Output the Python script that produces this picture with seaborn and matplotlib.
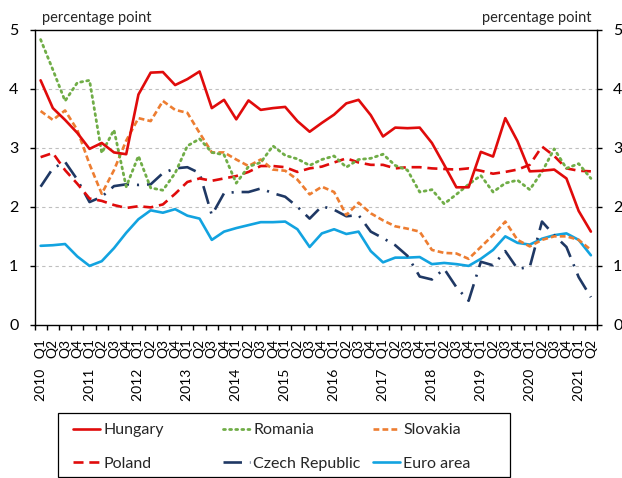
import numpy as np
import pandas as pd
import matplotlib
matplotlib.use("Agg")
import matplotlib.pyplot as plt
import seaborn as sns
from matplotlib.patches import Rectangle

# ---------------- data ----------------
years = list(range(2010, 2022))
quarters = ["Q1", "Q2", "Q3", "Q4"]
periods = [(y, q) for y in years for q in quarters][:46]
tick_labels = [f"{y}   {q}" if q == "Q1" else q for y, q in periods]

hungary = [4.14, 3.67, 3.47, 3.25, 2.98, 3.08, 2.92, 2.89, 3.90, 4.27,
           4.28, 4.06, 4.16, 4.29, 3.67, 3.81, 3.48, 3.80, 3.64, 3.67,
           3.69, 3.45, 3.27, 3.42, 3.56, 3.75, 3.81, 3.55, 3.19, 3.34,
           3.33, 3.34, 3.08, 2.71, 2.33, 2.33, 2.93, 2.85, 3.50, 3.11,
           2.60, 2.61, 2.63, 2.48, 1.93, 1.58]
romania = [4.83, 4.32, 3.79, 4.10, 4.14, 2.91, 3.30, 2.34, 2.86, 2.32,
           2.28, 2.57, 3.03, 3.15, 2.92, 2.88, 2.40, 2.68, 2.75, 3.03,
           2.87, 2.81, 2.70, 2.80, 2.86, 2.67, 2.80, 2.82, 2.89, 2.70,
           2.62, 2.25, 2.29, 2.05, 2.21, 2.38, 2.53, 2.25, 2.40, 2.45,
           2.29, 2.59, 2.98, 2.65, 2.73, 2.48]
slovakia = [3.62, 3.47, 3.63, 3.30, 2.72, 2.22, 2.62, 3.12, 3.50, 3.45,
            3.79, 3.64, 3.59, 3.25, 2.92, 2.92, 2.80, 2.69, 2.80, 2.63,
            2.61, 2.46, 2.21, 2.34, 2.25, 1.86, 2.07, 1.89, 1.77, 1.67,
            1.63, 1.58, 1.27, 1.22, 1.21, 1.12, 1.32, 1.52, 1.75, 1.44,
            1.33, 1.44, 1.50, 1.50, 1.44, 1.27]
poland = [2.84, 2.91, 2.62, 2.39, 2.14, 2.10, 2.03, 1.98, 2.01, 1.99,
          2.04, 2.22, 2.42, 2.48, 2.44, 2.48, 2.52, 2.59, 2.69, 2.69,
          2.67, 2.59, 2.65, 2.68, 2.75, 2.82, 2.75, 2.71, 2.71, 2.65,
          2.67, 2.67, 2.65, 2.64, 2.63, 2.65, 2.61, 2.56, 2.59, 2.63,
          2.71, 3.02, 2.86, 2.65, 2.61, 2.60]
czech = [2.34, 2.65, 2.76, 2.46, 2.08, 2.17, 2.35, 2.38, 2.37, 2.38,
         2.57, 2.65, 2.67, 2.57, 1.86, 2.23, 2.25, 2.25, 2.31, 2.23,
         2.17, 2.00, 1.80, 2.01, 1.95, 1.84, 1.86, 1.58, 1.47, 1.35,
         1.17, 0.82, 0.77, 0.95, 0.64, 0.41, 1.07, 1.01, 1.25, 0.95,
         0.98, 1.75, 1.52, 1.32, 0.81, 0.47]
euro_area = [1.34, 1.35, 1.37, 1.16, 1.00, 1.08, 1.30, 1.56, 1.79, 1.94,
             1.90, 1.96, 1.85, 1.80, 1.44, 1.58, 1.64, 1.69, 1.74, 1.74,
             1.75, 1.62, 1.32, 1.55, 1.62, 1.54, 1.58, 1.25, 1.06, 1.14,
             1.14, 1.15, 1.03, 1.05, 1.03, 1.00, 1.12, 1.27, 1.50, 1.39,
             1.36, 1.46, 1.52, 1.55, 1.44, 1.18]

series_names = ["Hungary", "Romania", "Slovakia", "Poland", "Czech Republic", "Euro area"]
series_values = [hungary, romania, slovakia, poland, czech, euro_area]

# ---------------- style ----------------
sns.set_theme(style="white")
plt.rcParams["font.family"] = ["Lato", "DejaVu Sans"]

styles = {
    "Hungary":        dict(color="#E00B0B", linestyle="-", linewidth=1.9),
    "Romania":        dict(color="#70AD47", linestyle=(0, (0.7, 1.5)), linewidth=2.0,
                           dash_capstyle="round"),
    "Slovakia":       dict(color="#ED7D31", linestyle=(0, (2.2, 1.2)), linewidth=1.9),
    "Poland":         dict(color="#E00B0B", linestyle=(0, (3.8, 2.2)), linewidth=1.9),
    "Czech Republic": dict(color="#1F3864", linestyle=(0, (7, 3, 0.8, 3)), linewidth=1.9),
    "Euro area":      dict(color="#12A3E0", linestyle="-", linewidth=1.9),
}

x = np.arange(len(periods))
df = pd.DataFrame({"idx": np.tile(x, len(series_names)),
                   "series": np.repeat(series_names, len(x)),
                   "value": np.concatenate([np.asarray(v, float) for v in series_values])})

fig = plt.figure(figsize=(6.22, 4.78), dpi=100)
W, H = 622, 478
ax = fig.add_axes([34.5 / W, (H - 325) / H, (597 - 34.5) / W, (325 - 29.5) / H])

order = ["Euro area", "Czech Republic", "Poland", "Slovakia", "Romania", "Hungary"]
handles = {}
for name in order:
    sub = df[df["series"] == name]
    sns.lineplot(data=sub, x="idx", y="value", ax=ax, legend=False, **styles[name])
    handles[name] = ax.lines[-1]

ax.set_xlim(-0.5, len(x) - 0.5)
ax.set_ylim(0, 5)
ax.set_xlabel("")
ax.set_ylabel("")

for yv in [1, 2, 3, 4]:
    ax.axhline(yv, color="#BFBFBF", linewidth=0.8, linestyle=(0, (3, 3)), zorder=0)

for s in ax.spines.values():
    s.set_visible(True)
    s.set_color("black")
    s.set_linewidth(1.0)

ax.set_yticks([0, 1, 2, 3, 4, 5])
ax.set_yticklabels(["0", "1", "2", "3", "4", "5"])
ax.tick_params(axis="y", which="major", direction="out", length=3.6, width=1.0,
               left=True, right=True, labelleft=True, labelright=True,
               labelsize=11.5, pad=8, colors="black")

ax.set_xticks(x)
ax.set_xticklabels(tick_labels, rotation=90, fontsize=10)
ax.set_xticks(np.arange(-0.5, len(x)), minor=True)
ax.tick_params(axis="x", which="major", length=0, pad=10, colors="black")
ax.tick_params(axis="x", which="minor", direction="out", length=3.6, width=1.0,
               bottom=True, color="black")
for lbl in ax.get_xticklabels():
    lbl.set_verticalalignment("top")
    lbl.set_horizontalalignment("center")

fig.text(42 / W, 1 - 18 / H, "percentage point", fontsize=10.5, ha="left", va="center")
fig.text(592 / W, 1 - 18 / H, "percentage point", fontsize=10.5, ha="right", va="center")

frame = Rectangle((58 / W, 1 - 477 / H), (510 - 58) / W, (477 - 413) / H,
                  transform=fig.transFigure, fill=False, edgecolor="black",
                  linewidth=0.9)
fig.add_artist(frame)

columns = [["Hungary", "Poland"], ["Romania", "Czech Republic"], ["Slovakia", "Euro area"]]
col_x = [73, 223, 373]
for cx, names in zip(col_x, columns):
    fig.legend([handles[n] for n in names], names, loc="upper left",
               bbox_to_anchor=(cx / W, 1 - 423 / H), frameon=False,
               fontsize=11.5, handlelength=1.7, handletextpad=0.2,
               labelspacing=1.2, borderpad=0, borderaxespad=0)

fig.savefig("out.png", dpi=100)
